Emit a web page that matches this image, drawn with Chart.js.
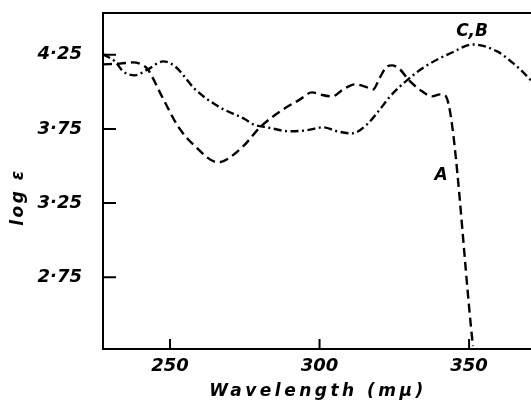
<!DOCTYPE html>
<html>
<head>
<meta charset="utf-8">
<script src="https://cdn.jsdelivr.net/npm/chart.js@4"></script>
<style>
  html, body { margin: 0; padding: 0; background: #fff; overflow: hidden; }
</style>
</head>
<body>
<canvas id="myChart" width="531" height="411"></canvas>
<script>
// ---- data ----
const waveA = [227.6, 233.3, 237.6, 241.6, 242.6, 247.3, 252.7, 258.4, 266.1, 274.1, 280.1, 286.8, 293.5, 297.5, 300.2, 304.2, 307.9, 311.9, 315.9, 317.9, 320.2, 322.6, 324.2, 326.9, 329.6, 334.3, 337.6, 340.3, 342.0, 351.3];
const logA = [4.185, 4.19, 4.198, 4.171, 4.151, 3.969, 3.767, 3.633, 3.525, 3.626, 3.761, 3.868, 3.949, 3.996, 3.982, 3.969, 4.016, 4.05, 4.03, 4.016, 4.097, 4.171, 4.178, 4.151, 4.084, 4.003, 3.969, 3.983, 3.976, 2.287];

const waveCB = [227.6, 231.6, 234.3, 238.3, 242.6, 247.7, 251.7, 258.4, 266.1, 275.1, 277.8, 282.4, 290.1, 295.8, 301.2, 305.9, 310.9, 315.9, 320.2, 323.6, 329.6, 335.3, 344.3, 351.3, 359.4, 364.4, 367.1, 370.7];
const logCB = [4.252, 4.205, 4.138, 4.111, 4.151, 4.205, 4.171, 4.017, 3.902, 3.815, 3.781, 3.761, 3.734, 3.741, 3.761, 3.734, 3.72, 3.781, 3.882, 3.969, 4.084, 4.171, 4.265, 4.319, 4.272, 4.198, 4.151, 4.077];

const xTicks = [250, 300, 350];
const yTicks = [2.75, 3.25, 3.75, 4.25];
const curveNames = ['A', 'C,B'];

const toPoints = (xs, ys) => xs.map((x, i) => ({ x: x, y: ys[i] }));

const labelFont = { family: '"DejaVu Sans"', size: 18, weight: 'bold', style: 'italic' };

// frame top line, inward ticks, axis titles, curve names
const extras = {
  id: 'extras',
  afterDraw(chart) {
    const { ctx, chartArea: ca, scales } = chart;
    ctx.save();
    ctx.strokeStyle = '#000';
    ctx.lineWidth = 2;
    ctx.beginPath();
    ctx.moveTo(ca.left - 1, ca.top);
    ctx.lineTo(ca.right, ca.top);
    xTicks.forEach(v => {
      const px = scales.x.getPixelForValue(v);
      ctx.moveTo(px, ca.bottom);
      ctx.lineTo(px, ca.bottom - 10);
    });
    yTicks.forEach(v => {
      const py = scales.y.getPixelForValue(v);
      ctx.moveTo(ca.left, py);
      ctx.lineTo(ca.left + 13, py);
    });
    ctx.stroke();

    ctx.fillStyle = '#000';
    ctx.font = 'italic bold 17px "DejaVu Sans"';
    ctx.textAlign = 'center';
    ctx.textBaseline = 'middle';
    ctx.letterSpacing = '3.5px';
    ctx.fillText('Wavelength (mμ)', 318, 392);

    ctx.letterSpacing = '2.5px';
    ctx.save();
    ctx.translate(19, 197);
    ctx.rotate(-Math.PI / 2);
    ctx.fillText('log ε', 0, 0);
    ctx.restore();

    ctx.letterSpacing = '0px';
    ctx.fillText(curveNames[0], scales.x.getPixelForValue(340.6), scales.y.getPixelForValue(3.438));
    ctx.fillText(curveNames[1], scales.x.getPixelForValue(351.0), scales.y.getPixelForValue(4.407));
    ctx.restore();
  }
};

const ctx = document.getElementById('myChart');

new Chart(ctx, {
  type: 'line',
  data: {
    datasets: [{
      label: curveNames[0],
      data: toPoints(waveA, logA),
      borderColor: '#000',
      borderWidth: 2.4,
      borderDash: [9, 5],
      pointRadius: 0,
      cubicInterpolationMode: 'monotone'
    }, {
      label: curveNames[1],
      data: toPoints(waveCB, logCB),
      borderColor: '#000',
      borderWidth: 2.4,
      borderDash: [8, 3.5, 2, 3.5],
      pointRadius: 0,
      cubicInterpolationMode: 'monotone'
    }]
  },
  options: {
    responsive: false,
    animation: false,
    devicePixelRatio: 1,
    layout: { padding: { top: 13, left: 0, right: 0, bottom: 0 } },
    plugins: { legend: { display: false }, tooltip: { enabled: false } },
    scales: {
      x: {
        type: 'linear',
        min: 227.6,
        max: 370.7,
        grid: { display: false },
        border: { display: true, color: '#000', width: 2 },
        afterBuildTicks: s => { s.ticks = xTicks.map(v => ({ value: v })); },
        afterFit: s => { s.height = 62; s.paddingLeft = 0; s.paddingRight = 0; },
        ticks: { color: '#000', font: labelFont, padding: -1, maxRotation: 0, callback: v => String(v) }
      },
      y: {
        type: 'linear',
        min: 2.267,
        max: 4.531,
        grid: { display: false },
        border: { display: true, color: '#000', width: 2 },
        afterBuildTicks: s => { s.ticks = yTicks.map(v => ({ value: v })); },
        afterFit: s => { s.width = 103; s.paddingTop = 0; s.paddingBottom = 0; },
        ticks: { color: '#000', font: labelFont, padding: 13, callback: v => v.toFixed(2).replace('.', '·') }
      }
    }
  },
  plugins: [extras]
});
</script>
</body>
</html>
